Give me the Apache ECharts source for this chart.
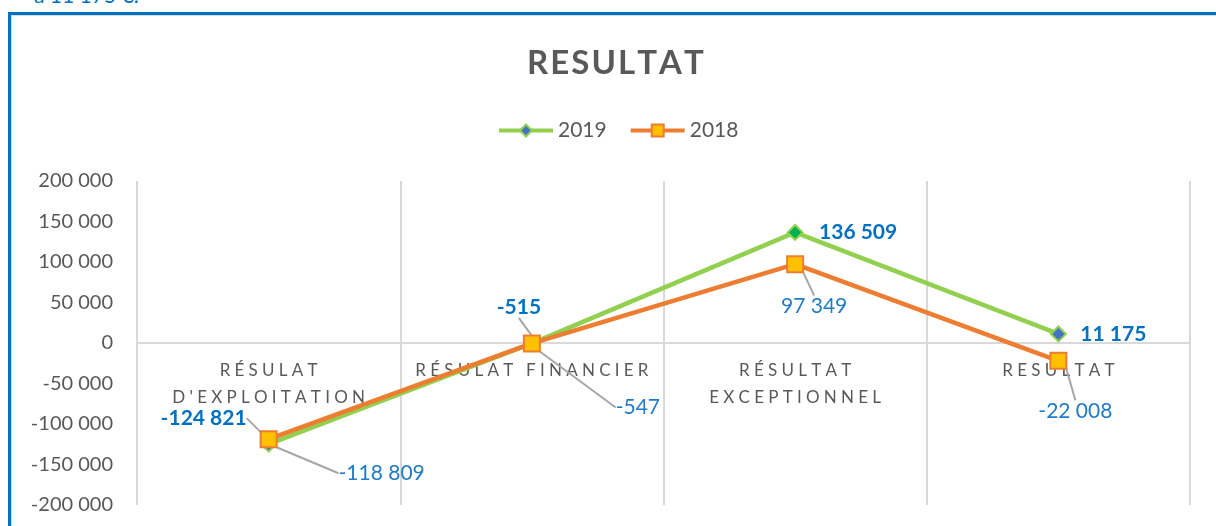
<!DOCTYPE html>
<html>
<head>
<meta charset="utf-8">
<title>Resultat</title>
<script src="https://cdn.jsdelivr.net/npm/echarts@6/dist/echarts.min.js"></script>
<style>
  html, body { margin: 0; padding: 0; background: #fff; overflow: hidden; }
  #frame { position: absolute; left: 8px; top: 12px; width: 1300px; height: 600px;
           border-top: 3px solid #0070C0; border-left: 3px solid #0070C0; }
  #frame:before { content: ''; position: absolute; left: 0; top: 0; right: 0; bottom: 0;
           border-top: 1px solid #d9d9d9; border-left: 1px solid #d9d9d9; }
  #above { position: absolute; left: 34px; top: -18px; font: 21px Lato, sans-serif; color: #0070C0; }
  #main { position: absolute; left: 0; top: 0; width: 1216px; height: 526px; }
</style>
</head>
<body>
<div id="above">à 11 175 €.</div>
<div id="frame"></div>
<div id="main"></div>
<script>
// data
const categories = ["RÉSULAT\nD'EXPLOITATION", 'RÉSULAT FINANCIER', 'RÉSULTAT\nEXCEPTIONNEL', 'RESULTAT'];
const values2019 = [-124821, -515, 136509, 11175];
const values2018 = [-118809, -547, 97349, -22008];
const yMin = -200000, yMax = 200000, yStep = 50000;

// label placement (offset from the point, in px) and leader lines
const off2019 = [[-65, -26], [-13, -36], [63, 0], [55, 0]];
const off2018 = [[113, 34], [106, 64], [19, 42], [17, 50]];
const guide2019 = [true, true, false, false];
const guide2018 = [true, true, true, true];

const font = 'Lato, "Noto Sans", sans-serif';
const grey = '#595959';
const gridTop = 181, gridBottom = 21, chartH = 526;

function fmt(v) {
  const s = String(Math.abs(v)).replace(/\B(?=(\d{3})+(?!\d))/g, ' ');
  return (v < 0 ? '-' : '') + s;
}
// excel draws these texts letter-spaced
function spaced(s, sp) {
  return s.split('\n').map(l => Array.from(l).join(sp)).join('\n');
}
function layoutFor(off) {
  return p => {
    const o = off[p.dataIndex];
    return {
      x: p.rect.x + p.rect.width / 2 + o[0],
      y: p.rect.y + p.rect.height / 2 + o[1],
      align: 'center',
      verticalAlign: 'middle'
    };
  };
}

const chart = echarts.init(document.getElementById('main'));

// the category axis sits on the zero line, labels included
const gridH = chartH - gridTop - gridBottom;
const zeroShift = gridH * (0 - yMin) / (yMax - yMin);

const option = {
  animation: false,
  title: {
    text: spaced('RESULTAT', '\u200A'),
    left: 522,
    top: 42,
    textStyle: { fontFamily: font, fontSize: 33, fontWeight: 'bold', color: grey }
  },
  legend: {
    top: 115,
    left: 492,
    itemWidth: 54,
    itemHeight: 15,
    itemGap: 22,
    data: ['2019', '2018'],
    lineStyle: { width: 4 },
    textStyle: { fontFamily: font, fontSize: 21, color: grey }
  },
  grid: { left: 137, right: 26, top: gridTop, bottom: gridBottom, outerBoundsMode: 'none', containLabel: false },
  xAxis: {
    type: 'category',
    data: categories,
    boundaryGap: true,
    offset: -zeroShift,
    axisLine: { onZero: false, lineStyle: { color: '#d9d9d9', width: 2 } },
    axisTick: { show: false },
    splitLine: { show: true, lineStyle: { color: '#d9d9d9', width: 2 } },
    axisLabel: {
      interval: 0,
      margin: 14,
      lineHeight: 27,
      fontFamily: font,
      fontSize: 17,
      color: grey,
      formatter: s => spaced(s, '\u2005')
    }
  },
  yAxis: {
    type: 'value',
    min: yMin,
    max: yMax,
    interval: yStep,
    axisLine: { show: false },
    axisTick: { show: false },
    splitLine: { show: false },
    axisLabel: { margin: 24, fontFamily: font, fontSize: 20, color: grey, formatter: fmt }
  },
  series: [
    {
      name: '2019',
      type: 'line',
      data: values2019.map((v, i) => ({
        value: v,
        itemStyle: i === 2 ? { color: '#00B050' } : undefined,
        labelLine: { show: guide2019[i] }
      })),
      symbol: 'diamond',
      symbolSize: 15,
      lineStyle: { color: '#92D050', width: 4.5 },
      itemStyle: { color: '#4472C4', borderColor: '#92D050', borderWidth: 2 },
      label: {
        show: true,
        fontFamily: font,
        fontSize: 21,
        fontWeight: 'bold',
        color: '#0070C0',
        formatter: p => fmt(p.value)
      },
      labelLine: { lineStyle: { color: '#a6a6a6', width: 2 } },
      labelLayout: layoutFor(off2019)
    },
    {
      name: '2018',
      type: 'line',
      data: values2018.map((v, i) => ({
        value: v,
        labelLine: { show: guide2018[i] }
      })),
      symbol: 'rect',
      symbolSize: 16,
      lineStyle: { color: '#ED7D31', width: 4.5 },
      itemStyle: { color: '#FFC000', borderColor: '#ED7D31', borderWidth: 2 },
      label: {
        show: true,
        fontFamily: font,
        fontSize: 21,
        color: '#1F7BC8',
        formatter: p => fmt(p.value)
      },
      labelLine: { lineStyle: { color: '#a6a6a6', width: 2 } },
      labelLayout: layoutFor(off2018)
    }
  ]
};

chart.setOption(option);
</script>
</body>
</html>
